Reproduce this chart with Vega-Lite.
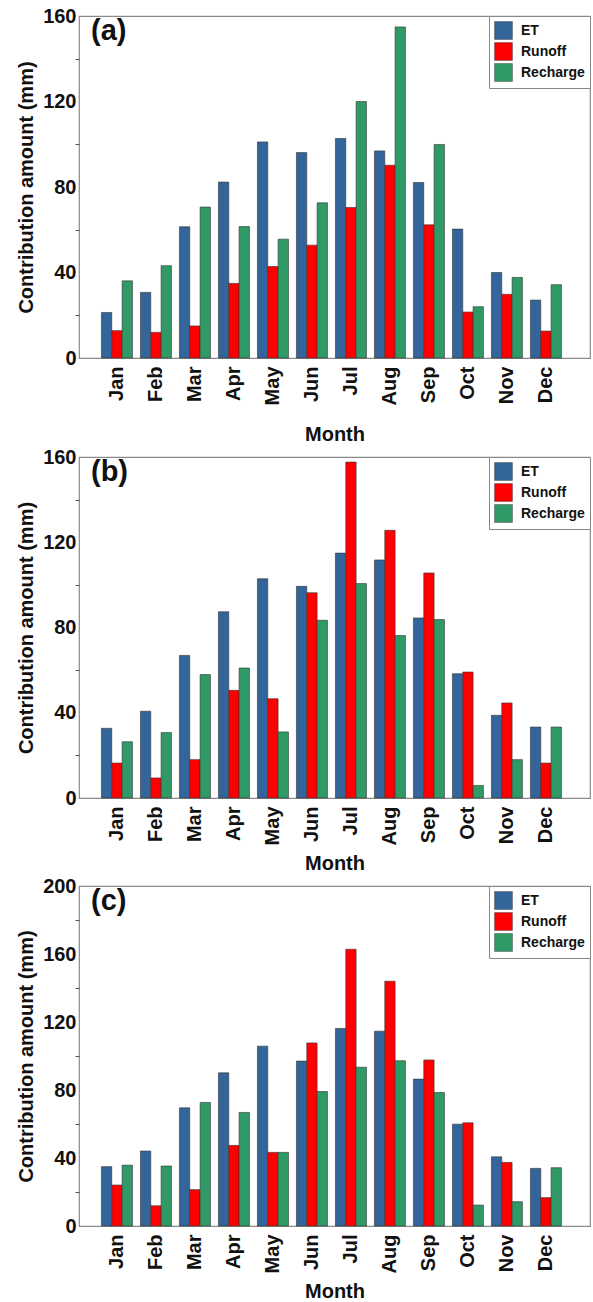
{
  "$schema": "https://vega.github.io/schema/vega-lite/v6.json",
  "padding": {"left": 16, "top": 5, "right": 2, "bottom": 0},
  "background": "white",
  "spacing": 0,
  "datasets": {
    "d": [
      {"panel": "a", "month": "Jan", "ET": 21.3, "Runoff": 12.8, "Recharge": 36.1},
      {"panel": "a", "month": "Feb", "ET": 30.7, "Runoff": 12.0, "Recharge": 43.2},
      {"panel": "a", "month": "Mar", "ET": 61.4, "Runoff": 15.0, "Recharge": 70.6},
      {"panel": "a", "month": "Apr", "ET": 82.3, "Runoff": 34.9, "Recharge": 61.5},
      {"panel": "a", "month": "May", "ET": 101.1, "Runoff": 42.8, "Recharge": 55.6},
      {"panel": "a", "month": "Jun", "ET": 96.1, "Runoff": 52.8, "Recharge": 72.6},
      {"panel": "a", "month": "Jul", "ET": 102.7, "Runoff": 70.4, "Recharge": 120.0},
      {"panel": "a", "month": "Aug", "ET": 96.9, "Runoff": 90.2, "Recharge": 154.9},
      {"panel": "a", "month": "Sep", "ET": 82.1, "Runoff": 62.3, "Recharge": 99.9},
      {"panel": "a", "month": "Oct", "ET": 60.3, "Runoff": 21.5, "Recharge": 24.0},
      {"panel": "a", "month": "Nov", "ET": 40.0, "Runoff": 29.8, "Recharge": 37.7},
      {"panel": "a", "month": "Dec", "ET": 27.1, "Runoff": 12.6, "Recharge": 34.3},
      {"panel": "b", "month": "Jan", "ET": 32.7, "Runoff": 16.4, "Recharge": 26.4},
      {"panel": "b", "month": "Feb", "ET": 40.7, "Runoff": 9.4, "Recharge": 30.7},
      {"panel": "b", "month": "Mar", "ET": 66.9, "Runoff": 18.0, "Recharge": 57.9},
      {"panel": "b", "month": "Apr", "ET": 87.4, "Runoff": 50.5, "Recharge": 61.0},
      {"panel": "b", "month": "May", "ET": 102.9, "Runoff": 46.6, "Recharge": 31.0},
      {"panel": "b", "month": "Jun", "ET": 99.3, "Runoff": 96.3, "Recharge": 83.4},
      {"panel": "b", "month": "Jul", "ET": 114.9, "Runoff": 157.6, "Recharge": 100.6},
      {"panel": "b", "month": "Aug", "ET": 111.7, "Runoff": 125.6, "Recharge": 76.2},
      {"panel": "b", "month": "Sep", "ET": 84.5, "Runoff": 105.6, "Recharge": 83.7},
      {"panel": "b", "month": "Oct", "ET": 58.3, "Runoff": 59.1, "Recharge": 5.9},
      {"panel": "b", "month": "Nov", "ET": 38.8, "Runoff": 44.6, "Recharge": 18.0},
      {"panel": "b", "month": "Dec", "ET": 33.3, "Runoff": 16.4, "Recharge": 33.3},
      {"panel": "c", "month": "Jan", "ET": 34.9, "Runoff": 24.1, "Recharge": 35.8},
      {"panel": "c", "month": "Feb", "ET": 44.1, "Runoff": 11.9, "Recharge": 35.3},
      {"panel": "c", "month": "Mar", "ET": 69.5, "Runoff": 21.4, "Recharge": 72.7},
      {"panel": "c", "month": "Apr", "ET": 90.1, "Runoff": 47.4, "Recharge": 66.8},
      {"panel": "c", "month": "May", "ET": 105.8, "Runoff": 43.3, "Recharge": 43.3},
      {"panel": "c", "month": "Jun", "ET": 97.0, "Runoff": 107.7, "Recharge": 79.1},
      {"panel": "c", "month": "Jul", "ET": 116.2, "Runoff": 162.8, "Recharge": 93.4},
      {"panel": "c", "month": "Aug", "ET": 114.6, "Runoff": 144.0, "Recharge": 97.2},
      {"panel": "c", "month": "Sep", "ET": 86.4, "Runoff": 97.7, "Recharge": 78.5},
      {"panel": "c", "month": "Oct", "ET": 59.9, "Runoff": 60.7, "Recharge": 12.3},
      {"panel": "c", "month": "Nov", "ET": 40.7, "Runoff": 37.4, "Recharge": 14.3},
      {"panel": "c", "month": "Dec", "ET": 33.9, "Runoff": 16.7, "Recharge": 34.3}
    ]
  },
  "resolve": {"scale": {"color": "independent", "y": "independent"}, "legend": {"color": "independent"}},
  "vconcat": [
    {
      "width": 511, "height": 342,
      "title": {"text": "(a)"},
      "data": {"name": "d"},
      "transform": [{"filter": "datum.panel === 'a'"}, {"fold": ["ET", "Runoff", "Recharge"], "as": ["component", "amount"]}],
      "mark": {"type": "bar", "stroke": "#333", "strokeWidth": 0.6},
      "encoding": {
        "x": {"field": "month", "type": "nominal", "sort": ["Jan","Feb","Mar","Apr","May","Jun","Jul","Aug","Sep","Oct","Nov","Dec"], "title": "Month", "axis": {"titlePadding": 20}, "scale": {"paddingInner": 0.205, "paddingOuter": 0.654, "align": 0.44}},
        "xOffset": {"field": "component", "type": "nominal", "sort": ["ET","Runoff","Recharge"], "scale": {"paddingInner": 0, "paddingOuter": 0}},
        "y": {"field": "amount", "type": "quantitative", "title": "Contribution amount (mm)", "scale": {"domain": [0, 160], "nice": false}, "axis": {"values": [0,20,40,60,80,100,120,140,160]}},
        "color": {"field": "component", "type": "nominal", "sort": ["ET","Runoff","Recharge"], "scale": {"domain": ["ET","Runoff","Recharge"], "range": ["#33659A", "#FF0000", "#2F9A66"]}, "legend": {"title": null}}
      }
    },
    {
      "width": 511, "height": 341,
      "title": {"text": "(b)"},
      "data": {"name": "d"},
      "transform": [{"filter": "datum.panel === 'b'"}, {"fold": ["ET", "Runoff", "Recharge"], "as": ["component", "amount"]}],
      "mark": {"type": "bar", "stroke": "#333", "strokeWidth": 0.6},
      "encoding": {
        "x": {"field": "month", "type": "nominal", "sort": ["Jan","Feb","Mar","Apr","May","Jun","Jul","Aug","Sep","Oct","Nov","Dec"], "title": "Month", "axis": {"titlePadding": 9}, "scale": {"paddingInner": 0.205, "paddingOuter": 0.654, "align": 0.44}},
        "xOffset": {"field": "component", "type": "nominal", "sort": ["ET","Runoff","Recharge"], "scale": {"paddingInner": 0, "paddingOuter": 0}},
        "y": {"field": "amount", "type": "quantitative", "title": "Contribution amount (mm)", "scale": {"domain": [0, 160], "nice": false}, "axis": {"values": [0,20,40,60,80,100,120,140,160]}},
        "color": {"field": "component", "type": "nominal", "sort": ["ET","Runoff","Recharge"], "scale": {"domain": ["ET","Runoff","Recharge"], "range": ["#33659A", "#FF0000", "#2F9A66"]}, "legend": {"title": null}}
      }
    },
    {
      "width": 511, "height": 340,
      "title": {"text": "(c)"},
      "data": {"name": "d"},
      "transform": [{"filter": "datum.panel === 'c'"}, {"fold": ["ET", "Runoff", "Recharge"], "as": ["component", "amount"]}],
      "mark": {"type": "bar", "stroke": "#333", "strokeWidth": 0.6},
      "encoding": {
        "x": {"field": "month", "type": "nominal", "sort": ["Jan","Feb","Mar","Apr","May","Jun","Jul","Aug","Sep","Oct","Nov","Dec"], "title": "Month", "axis": {"titlePadding": 9}, "scale": {"paddingInner": 0.205, "paddingOuter": 0.654, "align": 0.44}},
        "xOffset": {"field": "component", "type": "nominal", "sort": ["ET","Runoff","Recharge"], "scale": {"paddingInner": 0, "paddingOuter": 0}},
        "y": {"field": "amount", "type": "quantitative", "title": "Contribution amount (mm)", "scale": {"domain": [0, 200], "nice": false}, "axis": {"values": [0,20,40,60,80,100,120,140,160,180,200]}},
        "color": {"field": "component", "type": "nominal", "sort": ["ET","Runoff","Recharge"], "scale": {"domain": ["ET","Runoff","Recharge"], "range": ["#33659A", "#FF0000", "#2F9A66"]}, "legend": {"title": null}}
      }
    }
  ],
  "config": {
    "font": "Liberation Sans",
    "view": {"stroke": "#8a8a8a", "strokeWidth": 1.2},
    "title": {"anchor": "start", "frame": "group", "fontSize": 29, "fontWeight": "bold", "color": "#111", "baseline": "top", "offset": 0, "dx": 12, "dy": 44},
    "axis": {"grid": false, "domain": false, "labelFont": "Liberation Sans", "titleFont": "Liberation Sans", "labelColor": "#111", "titleColor": "#111", "labelFontWeight": "bold", "titleFontWeight": "bold", "labelFontSize": 20, "titleFontSize": 20},
    "axisX": {"ticks": false, "labelAngle": -90, "labelPadding": 8},
    "axisY": {"tickSize": 4, "tickColor": "#555", "tickOpacity": {"condition": {"test": "datum.value % 40 === 0", "value": 0}, "value": 1}, "labelExpr": "datum.value % 40 === 0 ? datum.label : ''", "labelPadding": -1, "titlePadding": 6},
    "legend": {"orient": "top-right", "offset": 0, "padding": 5, "strokeColor": "#888", "fillColor": "white", "symbolType": "square", "symbolSize": 320, "symbolStrokeColor": "#444", "symbolStrokeWidth": 0.5, "symbolOpacity": 1, "labelFont": "Liberation Sans", "labelFontSize": 14, "labelFontWeight": "bold", "labelColor": "#111", "labelOffset": 8, "rowPadding": 0, "cornerRadius": 0}
  }
}
